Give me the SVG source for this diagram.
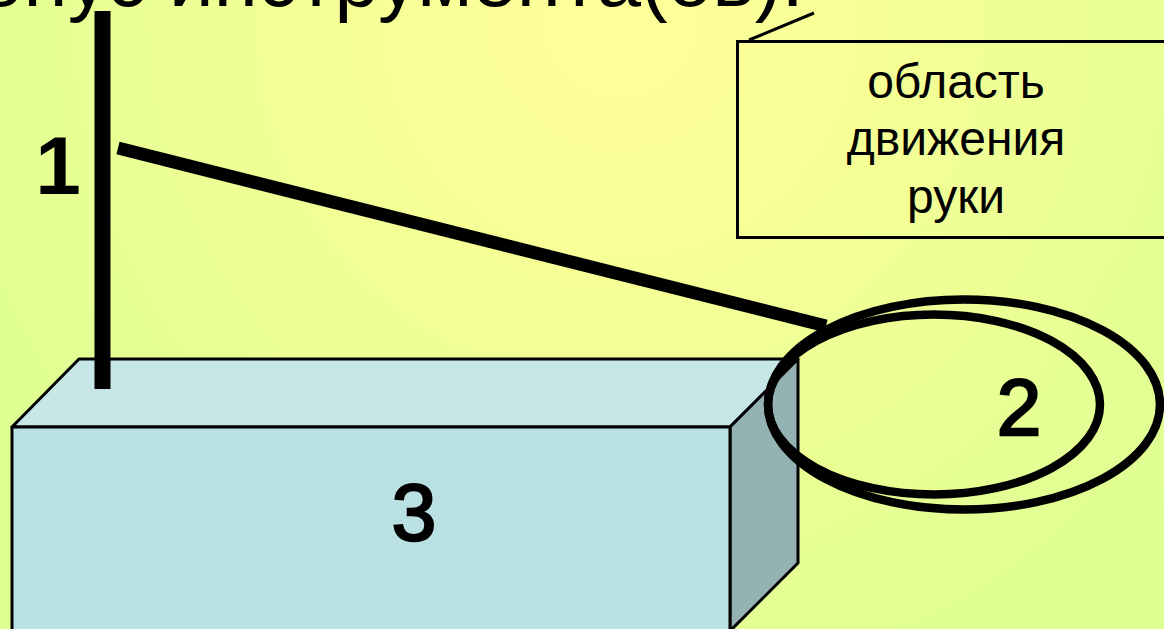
<svg xmlns="http://www.w3.org/2000/svg" width="1164" height="629" viewBox="0 0 1164 629">
<defs>
<radialGradient id="bg" gradientUnits="userSpaceOnUse" cx="620" cy="20" r="760">
<stop offset="0" stop-color="#FFFF99"/><stop offset="0.2" stop-color="#FBFF97"/><stop offset="1" stop-color="#DCFF92"/>
</radialGradient>
</defs>
<style>
text{font-family:"Liberation Sans",Arial,sans-serif;fill:#000}
.num{font-size:80px;text-anchor:middle;stroke:#000;stroke-width:2.5}
.one{font-size:82px;font-weight:700;text-anchor:middle}
.lbl{font-size:48px;text-anchor:middle}
.edge{fill:none;stroke:#000}
.face{stroke:#000;stroke-width:3;stroke-linejoin:round}
</style>
<rect id="background" width="1164" height="629" fill="url(#bg)"/>
<text id="title" x="-21" y="6" font-size="80">онус инструмента(ов).</text>
<g id="box">
<polygon class="face" points="12,427 79,359 798,359 730,427" fill="#C7E6E8"/>
<polygon class="face" points="730,427 798,359 798,563 730,631" fill="#94B1B3"/>
<rect class="face" x="12" y="427" width="718" height="210" fill="#B9E0E2"/>
<text class="num" x="414" y="540">3</text>
</g>
<g id="callout">
<rect x="737.5" y="41.5" width="440" height="196" fill="none" stroke="#000" stroke-width="3"/>
<text class="lbl" x="956" y="98">область</text>
<text class="lbl" x="956" y="155">движения</text>
<text class="lbl" x="956" y="213">руки</text>
</g>
<g id="connectors">
<line class="edge" x1="102.5" y1="11" x2="102.5" y2="389" stroke-width="16"/>
<line class="edge" x1="118" y1="148" x2="826" y2="326" stroke-width="13"/>
<line class="edge" x1="749" y1="40" x2="814" y2="13" stroke-width="3"/>
</g>
<g id="label-1"><text class="one" x="58" y="194">1</text></g>
<g id="hand-area">
<ellipse class="edge" cx="964" cy="404.5" rx="196" ry="105" stroke-width="8.5"/>
<ellipse class="edge" cx="934" cy="404.5" rx="166" ry="90" stroke-width="8.5"/>
<text class="num" x="1019" y="435">2</text>
</g>
</svg>
